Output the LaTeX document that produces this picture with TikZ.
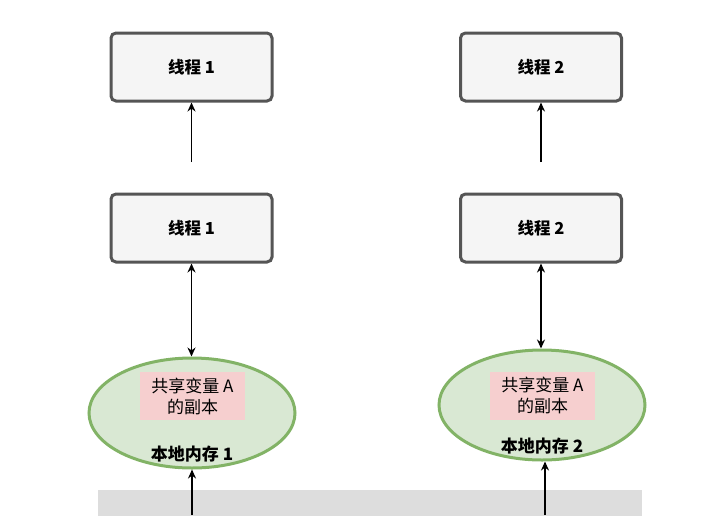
\documentclass[tikz,border=0pt]{standalone}
\usepackage{fontspec}
\newfontfamily\cjk{Noto Sans CJK SC}
\usetikzlibrary{shapes.geometric,arrows.meta}
\definecolor{boxgray}{HTML}{555555}
\definecolor{boxfill}{HTML}{F5F5F5}
\definecolor{memgreen}{HTML}{82B366}
\definecolor{memfill}{HTML}{D9E8D3}
\definecolor{copypink}{HTML}{F6CFCF}
\definecolor{bargray}{HTML}{DDDDDD}
\tikzset{
  thread/.style={draw=boxgray,line width=3pt,fill=boxfill,rounded corners=5pt,
    minimum width=161pt,minimum height=68pt,font=\cjk\bfseries\fontsize{16.5}{19}\selectfont},
  local/.style={ellipse,draw=memgreen,line width=3pt,fill=memfill,
    minimum width=206pt,minimum height=110pt},
  copybox/.style={fill=copypink,align=center,minimum width=105pt,minimum height=48pt,
    inner sep=0pt,font=\cjk\fontsize{17}{21}\selectfont},
  memlabel/.style={font=\cjk\bfseries\fontsize{17}{19}\selectfont},
  arr/.style={line width=1.5pt,-{Stealth[open,length=9pt,width=8pt]}},
  arrboth/.style={line width=1.5pt,{Stealth[open,length=9pt,width=8pt]}-{Stealth[open,length=9pt,width=8pt]}}
}
\begin{document}
\begin{tikzpicture}[x=1pt,y=-1pt]
    \useasboundingbox (0,0) rectangle (720,515);
    \fill[bargray] (98,490) rectangle (642,520);
    % threads
    \node[thread] (t1a) at (191.5,67) {线程 1};
    \node[thread] (t2a) at (541,67) {线程 2};
    \node[thread] (t1b) at (191.5,228) {线程 1};
    \node[thread] (t2b) at (541,228) {线程 2};
    % local memories
    \node[local] (m1) at (192,413) {};
    \node[local] (m2) at (542,405) {};
    \node[copybox] (c1) at (192.5,396) {共享变量 A\\的副本};
    \node[copybox] (c2) at (542.5,395.5) {共享变量 A\\的副本};
    \node[memlabel] (l1) at (192,454) {本地内存 1};
    \node[memlabel] (l2) at (542,446) {本地内存 2};
    % connectors
    \coordinate (s1) at (191.5,162);
    \coordinate (s2) at (541,162);
    \draw[arr] (s1) -- (t1a.south);
    \draw[arr] (s2) -- (t2a.south);
    \draw[arrboth] (t1b.south) -- (t1b.south |- m1.north);
    \draw[arrboth] (t2b.south) -- (t2b.south |- m2.north);
    \coordinate (b1) at (192,515);
    \coordinate (b2) at (545,515);
    \draw[arr] (b1) -- (m1.south);
    \draw[arr] (b2) -- (b2 |- m2.south);
\end{tikzpicture}
\end{document}
